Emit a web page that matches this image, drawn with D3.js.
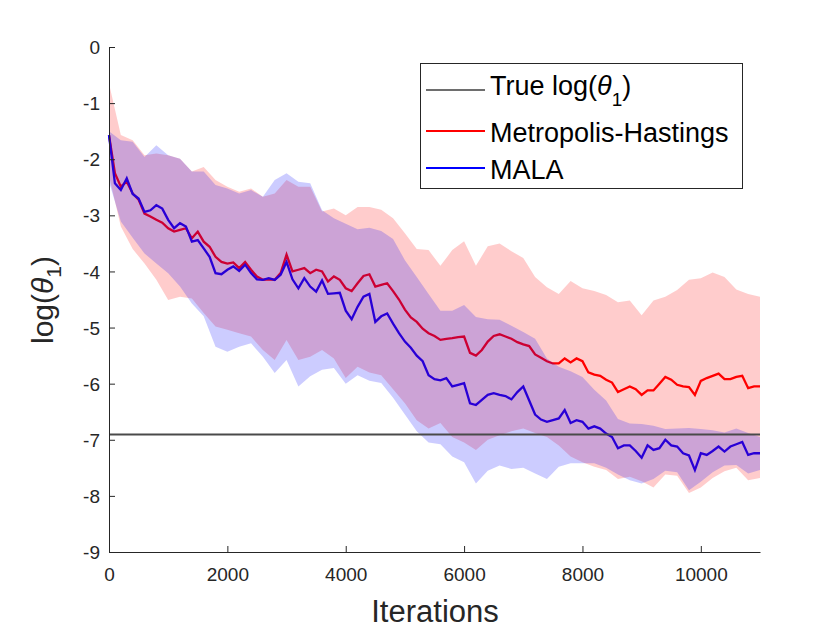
<!DOCTYPE html>
<html>
<head>
<meta charset="utf-8">
<script src="https://cdn.jsdelivr.net/npm/d3@7"></script>
<style>
  body { margin: 0; background: #fff; }
  svg { display: block; font-family: "Liberation Sans", Arial, Helvetica, sans-serif; }
</style>
</head>
<body>
<div id="chart"></div>
<script>
// iterations: lines sampled every 100, bands every 200
const lineStep = 100;
const bandStep = 200;
const trueLogTheta = -6.908;

const mhMean = [
  -1.57, -2.25, -2.49, -2.40, -2.61, -2.72, -2.97, -3.02, -3.08, -3.13,
  -3.23, -3.29, -3.26, -3.23, -3.41, -3.29, -3.47, -3.56, -3.74, -3.83,
  -3.86, -3.84, -3.94, -3.83, -3.97, -4.09, -4.15, -4.14, -4.15, -4.03,
  -3.70, -4.00, -3.97, -3.94, -4.03, -3.97, -4.00, -4.18, -4.09, -4.15,
  -4.30, -4.35, -4.21, -4.08, -4.05, -4.27, -4.24, -4.21, -4.35, -4.50,
  -4.68, -4.82, -4.90, -5.02, -5.10, -5.15, -5.22, -5.20, -5.19, -5.17,
  -5.16, -5.45, -5.50, -5.40, -5.25, -5.15, -5.12, -5.16, -5.20, -5.26,
  -5.30, -5.33, -5.48, -5.54, -5.60, -5.64, -5.64, -5.55, -5.62, -5.55,
  -5.60, -5.80, -5.84, -5.86, -5.93, -5.98, -6.15, -6.10, -6.05, -6.10,
  -6.20, -6.12, -6.12, -6.00, -5.88, -5.93, -6.02, -6.05, -6.06, -6.20,
  -5.95, -5.90, -5.86, -5.82, -5.92, -5.92, -5.88, -5.86, -6.08, -6.05, -6.05
];

const malaMean = [
  -1.57, -2.43, -2.55, -2.34, -2.62, -2.70, -2.94, -2.91, -2.82, -2.88,
  -3.08, -3.23, -3.14, -3.20, -3.47, -3.44, -3.59, -3.74, -4.03, -4.05,
  -3.97, -3.91, -3.99, -3.88, -4.03, -4.14, -4.15, -4.12, -4.15, -4.06,
  -3.83, -4.14, -4.30, -4.12, -4.27, -4.36, -4.16, -4.40, -4.39, -4.38,
  -4.70, -4.85, -4.63, -4.45, -4.40, -4.90, -4.80, -4.75, -4.93, -5.10,
  -5.25, -5.36, -5.50, -5.60, -5.85, -5.92, -5.94, -5.90, -6.05, -6.02,
  -5.99, -6.35, -6.38, -6.29, -6.20, -6.17, -6.20, -6.22, -6.28, -6.15,
  -6.05, -6.30, -6.55, -6.64, -6.68, -6.65, -6.62, -6.47, -6.70, -6.65,
  -6.68, -6.80, -6.76, -6.80, -6.89, -6.95, -7.15, -7.10, -7.10, -7.20,
  -7.32, -7.10, -7.18, -7.15, -7.00, -7.10, -7.12, -7.24, -7.28, -7.54,
  -7.24, -7.27, -7.20, -7.12, -7.21, -7.12, -7.08, -7.04, -7.27, -7.24, -7.24
];

const mhUpper = [
  -0.65, -1.57, -1.66, -1.93, -1.90, -1.93, -1.99, -2.22, -2.14, -2.37,
  -2.49, -2.58, -2.52, -2.67, -2.61, -2.37, -2.49, -2.49, -2.93, -2.88,
  -3.00, -2.85, -2.85, -2.90, -3.05, -3.32, -3.60, -3.62, -3.90, -3.62,
  -3.46, -3.90, -3.55, -3.50, -3.64, -3.76, -4.10, -4.28, -4.40, -4.17,
  -4.30, -4.35, -4.42, -4.55, -4.52, -4.78, -4.52, -4.45, -4.33, -4.15,
  -4.12, -4.02, -4.10, -4.32, -4.40, -4.45
];

const mhLower = [
  -2.30, -3.20, -3.60, -3.86, -4.15, -4.51, -4.45, -4.48, -4.74, -4.98,
  -5.04, -5.10, -5.16, -5.40, -5.58, -5.22, -5.58, -5.52, -5.40, -5.55,
  -5.90, -5.70, -5.80, -5.85, -6.10, -6.35, -6.65, -6.80, -6.70, -6.95,
  -7.05, -7.18, -7.00, -6.92, -6.85, -6.80, -6.88, -6.95, -7.10, -7.30,
  -7.40, -7.48, -7.54, -7.70, -7.66, -7.74, -7.85, -7.62, -7.64, -7.95,
  -7.85, -7.68, -7.56, -7.50, -7.72, -7.68
];

const malaUpper = [
  -1.50, -1.66, -1.69, -1.96, -1.75, -1.93, -1.99, -2.22, -2.22, -2.46,
  -2.52, -2.61, -2.55, -2.67, -2.37, -2.25, -2.40, -2.43, -2.91, -3.05,
  -3.15, -3.25, -3.22, -3.28, -3.42, -3.80, -4.10, -4.40, -4.70, -4.70,
  -4.60, -4.81, -4.85, -4.86, -4.97, -5.08, -5.20, -5.55, -5.70, -5.78,
  -5.88, -6.11, -6.30, -6.63, -6.71, -6.72, -6.75, -6.81, -6.80, -6.79,
  -6.81, -6.83, -6.87, -6.80, -6.88, -6.95
];

const malaLower = [
  -2.40, -3.11, -3.40, -3.68, -3.86, -4.03, -4.27, -4.57, -4.80, -5.34,
  -5.43, -5.34, -5.28, -5.52, -5.81, -5.58, -6.05, -5.87, -5.75, -5.72,
  -6.00, -5.85, -5.95, -5.99, -6.25, -6.55, -6.85, -7.05, -7.08, -7.30,
  -7.40, -7.78, -7.55, -7.46, -7.52, -7.50, -7.60, -7.70, -7.48, -7.42,
  -7.42, -7.42, -7.50, -7.62, -7.72, -7.78, -7.70, -7.55, -7.58, -7.90,
  -7.75, -7.58, -7.46, -7.45, -7.60, -7.54
];

const xTicks = [0, 2000, 4000, 6000, 8000, 10000];
const yTicks = [0, -1, -2, -3, -4, -5, -6, -7, -8, -9];

const legendItems = [
  { label: "True", color: "#6e6e6e" },
  { label: "Metropolis-Hastings", color: "#ff0000" },
  { label: "MALA", color: "#0000ff" }
];

const width = 840, height = 630;
const axisColor = "#262626";

const svg = d3.select("#chart").append("svg")
  .attr("width", width)
  .attr("height", height);

svg.append("rect").attr("width", width).attr("height", height).attr("fill", "#fff");

const x = d3.scaleLinear().domain([0, 11000]).range([109, 760]);
const y = d3.scaleLinear().domain([-9, 0]).range([552, 47]);

const toPoints = (arr, step) => arr.map((v, i) => ({ it: i * step, v }));
const toBand = (lo, hi, step) => lo.map((v, i) => ({ it: i * step, lo: v, hi: hi[i] }));

const line = d3.line().x(d => x(d.it)).y(d => y(d.v));
const area = d3.area().x(d => x(d.it)).y0(d => y(d.lo)).y1(d => y(d.hi));

const plot = svg.append("g");

// lines first, bands are drawn over them with alpha (as in the original)
plot.append("path")
  .datum(toPoints(mhMean, lineStep))
  .attr("d", line)
  .attr("fill", "none")
  .attr("stroke", "#ff0000")
  .attr("stroke-width", 2.3);

plot.append("path")
  .datum(toPoints(malaMean, lineStep))
  .attr("d", line)
  .attr("fill", "none")
  .attr("stroke", "#0000ff")
  .attr("stroke-width", 2.3);

plot.append("path")
  .datum(toBand(mhLower, mhUpper, bandStep))
  .attr("d", area)
  .attr("fill", "#ff0000")
  .attr("fill-opacity", 0.2);

plot.append("path")
  .datum(toBand(malaLower, malaUpper, bandStep))
  .attr("d", area)
  .attr("fill", "#0000ff")
  .attr("fill-opacity", 0.2);

plot.append("line")
  .attr("x1", x(0)).attr("x2", x(11000))
  .attr("y1", y(trueLogTheta)).attr("y2", y(trueLogTheta))
  .attr("stroke", "#4a4a4a")
  .attr("stroke-width", 2);

// axes, ticks pointing inward
const xAxis = svg.append("g")
  .attr("transform", `translate(0,${y(-9)})`)
  .call(d3.axisBottom(x).tickValues(xTicks).tickSize(-6).tickSizeOuter(0)
    .tickPadding(16).tickFormat(d => String(d)));

const yAxis = svg.append("g")
  .attr("transform", `translate(${x(0)},0)`)
  .call(d3.axisLeft(y).tickValues(yTicks).tickSize(-6).tickSizeOuter(0)
    .tickPadding(9).tickFormat(d => String(d)));

[xAxis, yAxis].forEach(g => {
  g.select(".domain").attr("stroke", axisColor);
  g.selectAll(".tick line").attr("stroke", axisColor);
  g.selectAll(".tick text")
    .attr("fill", axisColor)
    .style("font-size", "19px")
    .style("font-family", "'Liberation Sans', Arial, sans-serif");
});
yAxis.selectAll(".tick text").attr("dy", "0.35em");

// axis labels
svg.append("text")
  .attr("x", 435).attr("y", 622)
  .attr("text-anchor", "middle")
  .attr("fill", axisColor)
  .style("font-size", "31px")
  .text("Iterations");

const yl = svg.append("text")
  .attr("transform", "translate(53,300) rotate(-90)")
  .attr("text-anchor", "middle")
  .attr("fill", axisColor)
  .style("font-size", "30px");
yl.append("tspan").text("log(");
yl.append("tspan").style("font-style", "italic").text("θ");
yl.append("tspan").attr("dy", 8).style("font-size", "21px").text("1");
yl.append("tspan").attr("dy", -8).text(")");

// legend
const legend = svg.append("g");
legend.append("rect")
  .attr("x", 420.5).attr("y", 63.5)
  .attr("width", 322).attr("height", 125)
  .attr("fill", "#fff")
  .attr("stroke", axisColor)
  .attr("stroke-width", 1);

const lineY = [90, 131, 168];
const baseY = [95, 141.5, 179];

legendItems.forEach((d, i) => {
  legend.append("line")
    .attr("x1", 426).attr("x2", 485)
    .attr("y1", lineY[i]).attr("y2", lineY[i])
    .attr("stroke", d.color)
    .attr("stroke-width", 2);
  const t = legend.append("text")
    .attr("x", 490).attr("y", baseY[i])
    .attr("fill", "#000")
    .style("font-size", "27px");
  if (i === 0) {
    t.append("tspan").text("True log(");
    t.append("tspan").style("font-style", "italic").text("θ");
    t.append("tspan").attr("dy", 11).style("font-size", "19px").text("1");
    t.append("tspan").attr("dy", -11).text(")");
  } else {
    t.text(d.label);
  }
});
</script>
</body>
</html>
